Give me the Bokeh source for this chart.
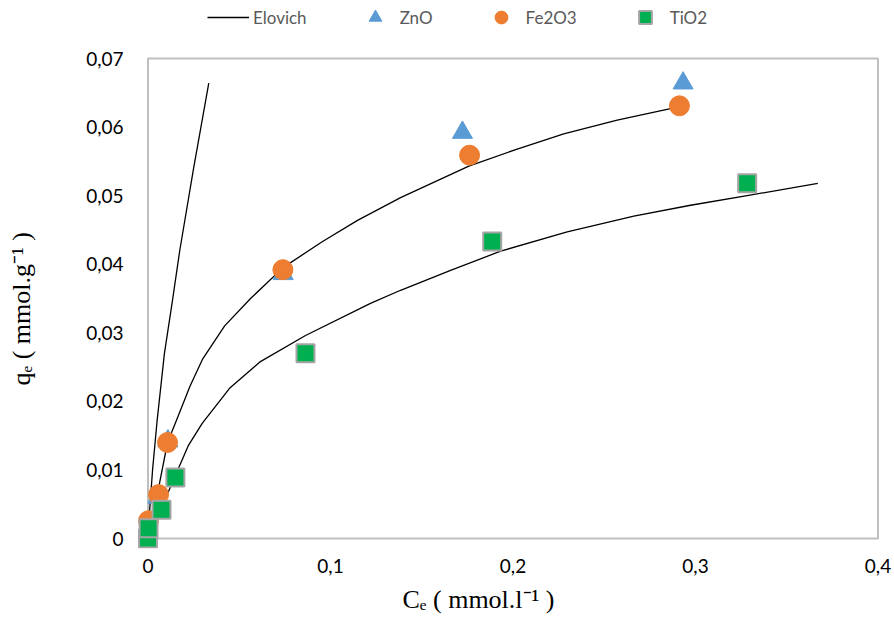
from bokeh.plotting import figure
from bokeh.models import (Range1d, FixedTicker, CustomJSTickFormatter, Title,
                          Legend, LegendItem)
from bokeh.embed import file_html
from bokeh.resources import INLINE

# ---------------------------------------------------------------- data
x_ticks = [0.0, 0.1, 0.2, 0.3, 0.4]
y_ticks = [0.0, 0.01, 0.02, 0.03, 0.04, 0.05, 0.06, 0.07]

zno_ce = [0.0, 0.0054, 0.0109, 0.0741, 0.1723, 0.2932]
zno_qe = [0.0009, 0.0060, 0.0142, 0.0386, 0.0592, 0.0664]

fe2o3_ce = [0.0003, 0.0058, 0.0107, 0.0739, 0.1762, 0.2912]
fe2o3_qe = [0.0026, 0.0064, 0.0140, 0.0392, 0.0559, 0.0631]

tio2_ce = [0.0, 0.0003, 0.0074, 0.0150, 0.0863, 0.1886, 0.3283]
tio2_qe = [0.0, 0.0015, 0.0042, 0.0089, 0.0270, 0.0433, 0.0518]

# Elovich model curves (fitted values)
elovich_a_ce = [0.0, 0.0010, 0.0025, 0.0050, 0.0090, 0.0134, 0.0174, 0.0250, 0.0333]
elovich_a_qe = [0.0, 0.0045, 0.0100, 0.0172, 0.0270, 0.0347, 0.0420, 0.0540, 0.0664]

elovich_b_ce = [0.0, 0.0050, 0.0107, 0.0160, 0.0230, 0.0300, 0.0420, 0.0562, 0.0740,
                0.0950, 0.1148, 0.1384, 0.1758, 0.2023, 0.2278, 0.2571, 0.2863]
elovich_b_qe = [0.0, 0.0063, 0.0140, 0.0175, 0.0222, 0.0262, 0.0310, 0.0350, 0.0395,
                0.0432, 0.0464, 0.0497, 0.0543, 0.0568, 0.0590, 0.0610, 0.0627]

elovich_c_ce = [0.0, 0.0074, 0.0150, 0.0220, 0.0297, 0.0450, 0.0616, 0.0863, 0.1219,
                0.1384, 0.1658, 0.1932, 0.2297, 0.2662, 0.2973, 0.3283, 0.3670]
elovich_c_qe = [0.0, 0.0045, 0.0092, 0.0135, 0.0168, 0.0220, 0.0258, 0.0296, 0.0343,
                0.0362, 0.0391, 0.0419, 0.0447, 0.0470, 0.0486, 0.0500, 0.0518]

# ---------------------------------------------------------------- layout
W, H = 894, 622
# the frame runs up to the top edge so the legend can sit above the box
FRAME_L, FRAME_R, FRAME_T, FRAME_B = 137, 888, 0, 548
BOX_L, BOX_R, BOX_T, BOX_B = 147.5, 877.5, 58, 538
XS = (BOX_R - BOX_L) / (x_ticks[-1] - x_ticks[0])
YS = (BOX_B - BOX_T) / (y_ticks[-1] - y_ticks[0])
x_lo = x_ticks[0] - (BOX_L - FRAME_L) / XS
x_hi = x_ticks[-1] + (FRAME_R - BOX_R) / XS
y_lo = y_ticks[0] - (FRAME_B - BOX_B) / YS
y_hi = y_ticks[-1] + (BOX_T - FRAME_T) / YS

p = figure(width=W, height=H, output_backend="svg", toolbar_location=None,
           x_range=Range1d(x_lo, x_hi), y_range=Range1d(y_lo, y_hi),
           min_border_left=FRAME_L, min_border_right=W - FRAME_R,
           min_border_top=FRAME_T, min_border_bottom=H - FRAME_B)
p.outline_line_color = None
p.grid.visible = False
p.background_fill_color = "white"
p.border_fill_color = "white"

fmt = CustomJSTickFormatter(code="return String(Math.round(tick*100)/100).replace('.', ',');")
for ax, ticks in ((p.xaxis, x_ticks), (p.yaxis, y_ticks)):
    ax.ticker = FixedTicker(ticks=ticks)
    ax.formatter = fmt
    ax.axis_line_color = None
    ax.major_tick_line_color = None
    ax.minor_tick_line_color = None
    ax.major_tick_out = 0
    ax.major_tick_in = 0
    ax.minor_tick_out = 0
    ax.minor_tick_in = 0
    ax.major_label_text_font = "Lato"
    ax.major_label_text_font_size = "19px"
    ax.major_label_text_color = "#000000"
p.xaxis.major_label_standoff = 10
p.yaxis.major_label_standoff = 14

# plot-area box
p.quad(left=x_ticks[0], right=x_ticks[-1], bottom=y_ticks[0], top=y_ticks[-1],
       fill_color=None, line_color="#BFBFBF", line_width=2)

# model curves
l1 = p.line(elovich_a_ce, elovich_a_qe, line_color="black", line_width=1.3)
p.line(elovich_b_ce, elovich_b_qe, line_color="black", line_width=1.3)
p.line(elovich_c_ce, elovich_c_qe, line_color="black", line_width=1.3)

# measured points
r_zno = p.scatter(zno_ce, zno_qe, marker="triangle", size=20,
                  fill_color="#5B9BD5", line_color="#5B9BD5", line_width=1)
r_fe = p.scatter(fe2o3_ce, fe2o3_qe, marker="circle", size=20,
                 fill_color="#ED7D31", line_color="#ED7D31", line_width=1)
r_ti = p.scatter(tio2_ce, tio2_qe, marker="square", size=18,
                 fill_color="#00B050", line_color="#A5A5A5", line_width=2)

# legend across the top
legend = Legend(items=[LegendItem(label="Elovich", renderers=[l1]),
                       LegendItem(label="ZnO", renderers=[r_zno]),
                       LegendItem(label="Fe2O3", renderers=[r_fe]),
                       LegendItem(label="TiO2", renderers=[r_ti])],
                location=(207 - FRAME_L, FRAME_B - 33), orientation="horizontal",
                glyph_width=42, glyph_height=32, label_height=32,
                label_standoff=4, spacing=47, padding=0, margin=0,
                border_line_color=None, background_fill_alpha=0,
                label_text_font="Lato", label_text_font_size="17px",
                label_text_color="#595959")
p.add_layout(legend, "center")

# empty title used as a spacer between the y tick labels and the y title
p.add_layout(Title(text=" ", text_font_size="1px", standoff=45), "left")

# axis titles
SERIF = "Liberation Serif"
x_title = Title(text="C\u2091 ( mmol.l\u207b\u00b9 )", align="left", offset=265,
                text_font=SERIF, text_font_size="26px", text_font_style="normal",
                text_color="black", standoff=15)
p.add_layout(x_title, "below")
y_title = Title(text="q\u2091 ( mmol.g\u207b\u00b9 )", align="left", offset=163,
                vertical_align="bottom",
                text_font=SERIF, text_font_size="26px", text_font_style="normal",
                text_color="black", standoff=0)
p.add_layout(y_title, "left")

open("out.html", "w").write(file_html(p, INLINE))
